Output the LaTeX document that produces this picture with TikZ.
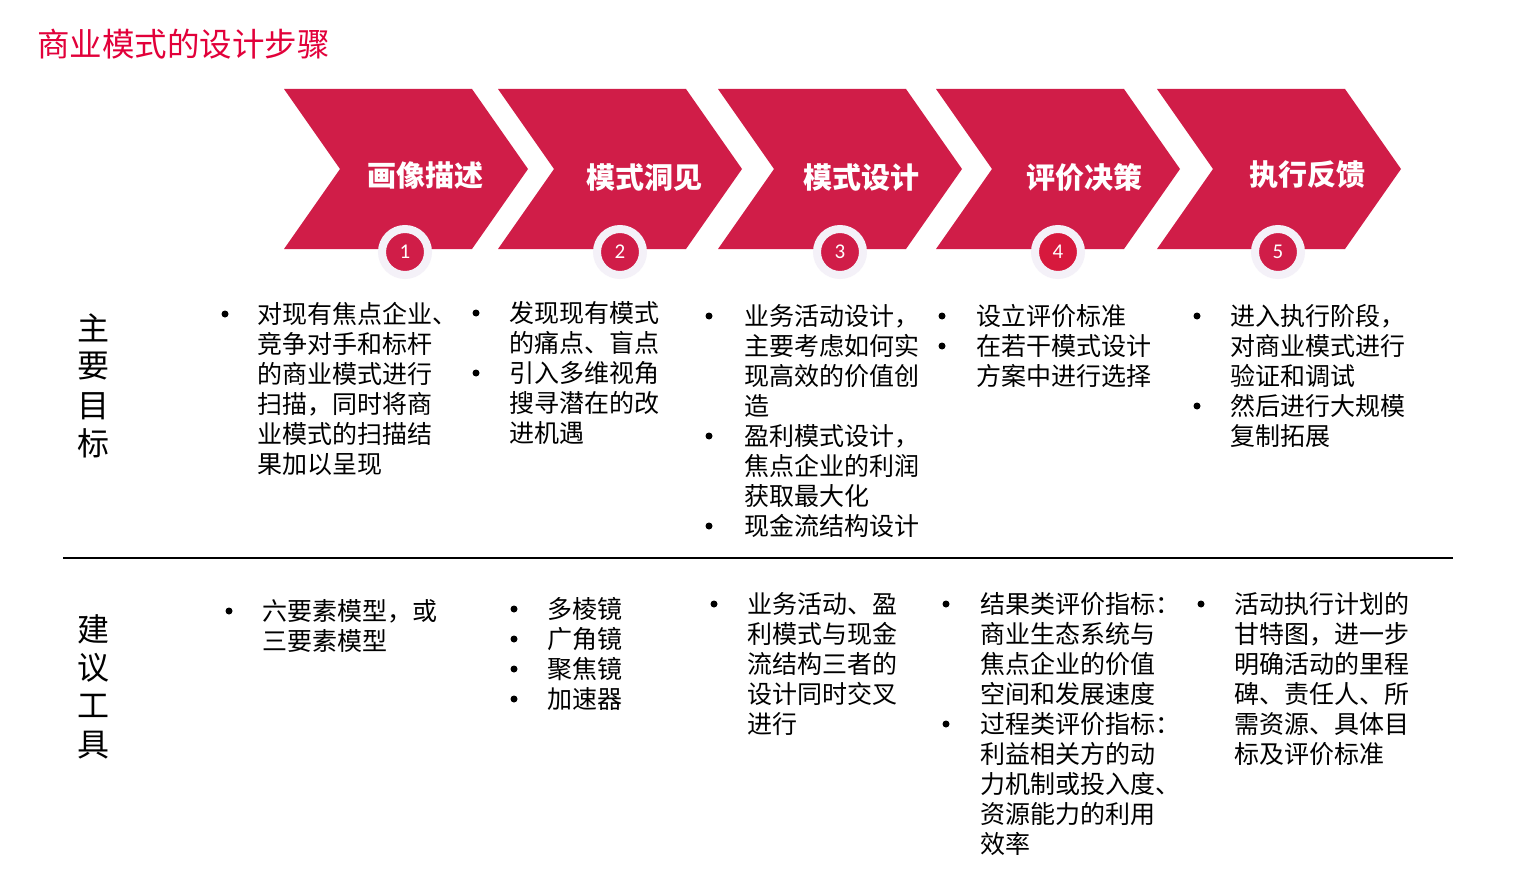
\documentclass[tikz,border=0pt]{standalone}
\usepackage{fontspec}
\newfontfamily\cjk{Noto Sans CJK SC}
\newfontfamily\numfont{Carlito}
\definecolor{chev}{HTML}{D01D48}
\definecolor{ringc}{HTML}{F4F1F8}
\definecolor{titlered}{HTML}{E2003A}
\tikzset{
  body/.style={font=\cjk\fontsize{25}{30}\selectfont, anchor=base west, inner sep=0pt},
  lab/.style={font=\cjk\bfseries\fontsize{29}{34}\selectfont, text=white, inner sep=0pt},
  numc/.style={circle, fill=chev, draw=ringc, line width=8pt, minimum size=46pt, inner sep=0pt, text=white, font=\numfont\fontsize{21}{24}\selectfont},
  bul/.style={circle, fill=black, minimum size=7pt, inner sep=0pt},
  side/.style={font=\cjk\fontsize{32}{36}\selectfont, inner sep=0pt},
}
\newcommand\txtlines[4]{%
  \foreach \t [count=\k from 0] in {#4} {\node[body] (#3-\k) at (#1,#2+9.5+30*\k) {\t};}}
\begin{document}
\begin{tikzpicture}[x=1pt,y=-1pt]
\useasboundingbox[fill=white] (0,0) rectangle (1524,888);
% title
\node[font=\cjk\fontsize{32.5}{36}\selectfont, text=titlered, anchor=base west, inner sep=0pt] (title) at (37,57) {商业模式的设计步骤};
% chevrons
\foreach \L in {284,498,718,936,1157}
  \fill[chev] (\L,89) -- (\L+188,89) -- (\L+244,169) -- (\L+188,249) -- (\L,249) -- (\L+56,169) -- cycle;
\node[lab] (h1) at (425,175) {画像描述};
\node[lab] (h2) at (644,177) {模式洞见};
\node[lab] (h3) at (861,177) {模式设计};
\node[lab] (h4) at (1084,177) {评价决策};
\node[lab] (h5) at (1307,175) {执行反馈};
% number circles
\node[numc] (n1) at (405,252) {1};
\node[numc] (n2) at (620,252) {2};
\node[numc] (n3) at (840,252) {3};
\node[numc, fill=chev!85!red] (n4) at (1058,252) {4};
\node[numc] (n5) at (1278,252) {5};
% side labels
\node[side] (s1) at (93,328) {主};
\node[side] (s2) at (93,366) {要};
\node[side] (s3) at (93,406) {目};
\node[side] (s4) at (93,443) {标};
\node[side] (t1) at (93,629) {建};
\node[side] (t2) at (93,668) {议};
\node[side] (t3) at (93,706) {工};
\node[side] (t4) at (93,745) {具};
% separator
\coordinate (sepL) at (63,558);
\coordinate (sepR) at (1453,558);
\draw[line width=1.6pt] (sepL) -- (sepR);
% ---- top row ----
\node[bul] (a1b1) at (225,314) {};
\txtlines{257}{314}{a1}{对现有焦点企业、,竞争对手和标杆,的商业模式进行,扫描，同时将商,业模式的扫描结,果加以呈现}
\node[bul] (a2b1) at (476,313) {};
\node[bul] (a2b2) at (476,373) {};
\txtlines{509}{313}{a2}{发现现有模式,的痛点、盲点,引入多维视角,搜寻潜在的改,进机遇}
\node[bul] (a3b1) at (709,316) {};
\node[bul] (a3b2) at (709,436) {};
\node[bul] (a3b3) at (709,526) {};
\txtlines{744}{316}{a3}{业务活动设计，,主要考虑如何实,现高效的价值创,造,盈利模式设计，,焦点企业的利润,获取最大化,现金流结构设计}
\node[bul] (a4b1) at (942,316) {};
\node[bul] (a4b2) at (942,346) {};
\txtlines{976}{316}{a4}{设立评价标准,在若干模式设计,方案中进行选择}
\node[bul] (a5b1) at (1197,316) {};
\node[bul] (a5b2) at (1197,406) {};
\txtlines{1230}{316}{a5}{进入执行阶段，,对商业模式进行,验证和调试,然后进行大规模,复制拓展}
% ---- bottom row ----
\node[bul] (b1b1) at (229,611) {};
\txtlines{262}{611}{b1}{六要素模型，或,三要素模型}
\node[bul] (b2b1) at (514,609) {};
\node[bul] (b2b2) at (514,639) {};
\node[bul] (b2b3) at (514,669) {};
\node[bul] (b2b4) at (514,699) {};
\txtlines{547}{609}{b2}{多棱镜,广角镜,聚焦镜,加速器}
\node[bul] (b3b1) at (714,604) {};
\txtlines{747}{604}{b3}{业务活动、盈,利模式与现金,流结构三者的,设计同时交叉,进行}
\node[bul] (b4b1) at (946,604) {};
\node[bul] (b4b2) at (946,724) {};
\txtlines{980}{604}{b4}{结果类评价指标：,商业生态系统与,焦点企业的价值,空间和发展速度,过程类评价指标：,利益相关方的动,力机制或投入度、,资源能力的利用,效率}
\node[bul] (b5b1) at (1201,604) {};
\txtlines{1234}{604}{b5}{活动执行计划的,甘特图，进一步,明确活动的里程,碑、责任人、所,需资源、具体目,标及评价标准}
\end{tikzpicture}
\end{document}
